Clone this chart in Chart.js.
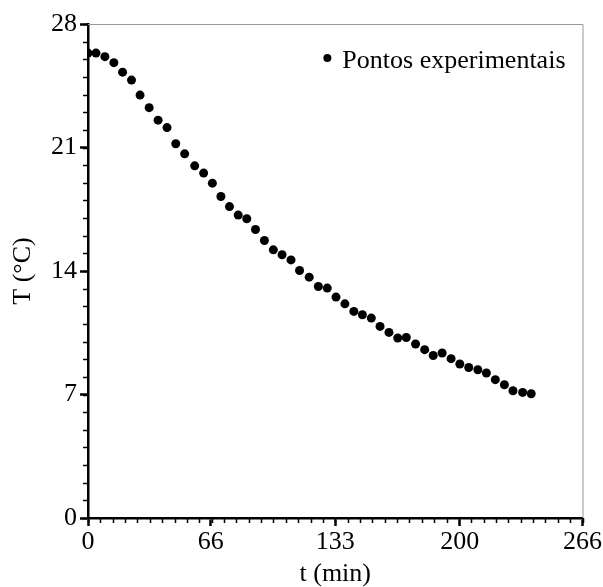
<!DOCTYPE html>
<html>
<head>
<meta charset="utf-8">
<script src="https://cdn.jsdelivr.net/npm/chart.js@4"></script>
<style>
    html, body { margin: 0; padding: 0; background: #fff; }
    #wrap { width: 603px; height: 587px; }
</style>
</head>
<body>
<div id="wrap"><canvas id="dataChart"></canvas></div>
<script>
// Leituras do grafico
const tempos = [0, 4.3, 9.1, 13.9, 18.6, 23.4, 28.0, 32.9, 37.7, 42.5,
    47.2, 52.0, 57.4, 62.2, 66.9, 71.5, 76.1, 80.8, 85.4, 90.1,
    94.9, 99.7, 104.4, 109.2, 113.8, 119.0, 123.9, 128.7, 133.4, 138.2,
    143.0, 147.6, 152.4, 157.1, 161.9, 166.6, 171.2, 176.2, 181.1, 185.7,
    190.5, 195.3, 200.0, 204.8, 209.7, 214.3, 219.1, 224.0, 228.6, 233.8, 238.4];
const temperaturas = [26.35, 26.35, 26.15, 25.81, 25.27, 24.82, 23.97, 23.26, 22.55, 22.13,
    21.21, 20.64, 19.96, 19.55, 18.98, 18.22, 17.65, 17.17, 16.96, 16.35,
    15.73, 15.20, 14.92, 14.63, 14.03, 13.65, 13.12, 13.03, 12.52, 12.14,
    11.71, 11.52, 11.33, 10.86, 10.52, 10.20, 10.23, 9.86, 9.54, 9.21,
    9.35, 9.03, 8.73, 8.53, 8.40, 8.22, 7.84, 7.55, 7.21, 7.12, 7.04];
const xTicks = [0, 66, 133, 200, 266];
const yTicks = [0, 7, 14, 21, 28];
const xMinorStep = 6.65;
const yMinorStep = 1;

const serif = "'Liberation Serif', 'Times New Roman', serif";

const points = tempos.map((t, i) => ({ x: t, y: temperaturas[i] }));

// tracinhos menores, moldura cinza e legenda dentro do grafico
const axisDecor = {
    id: 'axisDecor',
    afterDraw(chart) {
        const { ctx, chartArea } = chart;
        const xs = chart.scales.x, ys = chart.scales.y;
        ctx.save();
        ctx.strokeStyle = '#999';
        ctx.lineWidth = 1;
        ctx.beginPath();
        ctx.moveTo(chartArea.left, chartArea.top + 0.5);
        ctx.lineTo(chartArea.right + 0.5, chartArea.top + 0.5);
        ctx.lineTo(chartArea.right + 0.5, chartArea.bottom);
        ctx.stroke();

        ctx.strokeStyle = '#000';
        ctx.lineWidth = 1.5;
        ctx.beginPath();
        for (let v = 0; v <= 266.01; v += xMinorStep) {
            const px = Math.round(xs.getPixelForValue(v)) + 0.5;
            ctx.moveTo(px, chartArea.bottom);
            ctx.lineTo(px, chartArea.bottom + 5);
        }
        for (let v = 0; v <= 28.01; v += yMinorStep) {
            const py = Math.round(ys.getPixelForValue(v)) + 0.5;
            ctx.moveTo(chartArea.left, py);
            ctx.lineTo(chartArea.left - 5, py);
        }
        ctx.stroke();

        // legenda
        const label = chart.data.datasets[0].label;
        ctx.font = '26px ' + serif;
        const w = ctx.measureText(label).width;
        const tx = chartArea.right - 17 - w;
        ctx.fillStyle = '#000';
        ctx.textBaseline = 'alphabetic';
        ctx.textAlign = 'left';
        ctx.fillText(label, tx, chartArea.top + 44);
        ctx.beginPath();
        ctx.arc(tx - 15, chartArea.top + 34, 4, 0, Math.PI * 2);
        ctx.fill();
        ctx.restore();
    }
};

const ctx = document.getElementById('dataChart').getContext('2d');

new Chart(ctx, {
    type: 'scatter',
    data: {
        datasets: [{
            label: 'Pontos experimentais',
            data: points,
            backgroundColor: '#000',
            borderColor: '#000',
            borderWidth: 0,
            pointRadius: 4.5,
            pointHoverRadius: 4.5
        }]
    },
    options: {
        responsive: true,
        maintainAspectRatio: false,
        animation: false,
        layout: {
            padding: { top: 24, right: 19, left: 0, bottom: 0 }
        },
        plugins: {
            tooltip: { enabled: false },
            legend: { display: false }
        },
        scales: {
            x: {
                type: 'linear',
                min: 0,
                max: 266,
                afterBuildTicks: scale => { scale.ticks = xTicks.map(v => ({ value: v })); },
                afterFit: scale => { scale.height = 69; },
                ticks: {
                    color: '#000',
                    padding: 1,
                    maxRotation: 0,
                    font: { family: serif, size: 26 }
                },
                grid: {
                    drawOnChartArea: false,
                    tickLength: 8,
                    tickWidth: 2.5,
                    tickColor: '#000'
                },
                border: { color: '#000', width: 2.5 },
                title: {
                    display: true,
                    text: 't (min)',
                    color: '#000',
                    padding: { top: -3, bottom: 0 },
                    font: { family: serif, size: 26, lineHeight: 1 }
                }
            },
            y: {
                min: 0,
                max: 28,
                afterBuildTicks: scale => { scale.ticks = yTicks.map(v => ({ value: v })); },
                afterFit: scale => { scale.width = 88; },
                ticks: {
                    color: '#000',
                    padding: 3,
                    font: { family: serif, size: 26 }
                },
                grid: {
                    drawOnChartArea: false,
                    tickLength: 8,
                    tickWidth: 2.5,
                    tickColor: '#000'
                },
                border: { color: '#000', width: 2.5 },
                title: {
                    display: true,
                    text: 'T (°C)',
                    color: '#000',
                    padding: { top: 10, bottom: 0 },
                    font: { family: serif, size: 26, lineHeight: 1 }
                }
            }
        }
    },
    plugins: [axisDecor]
});
</script>
</body>
</html>
